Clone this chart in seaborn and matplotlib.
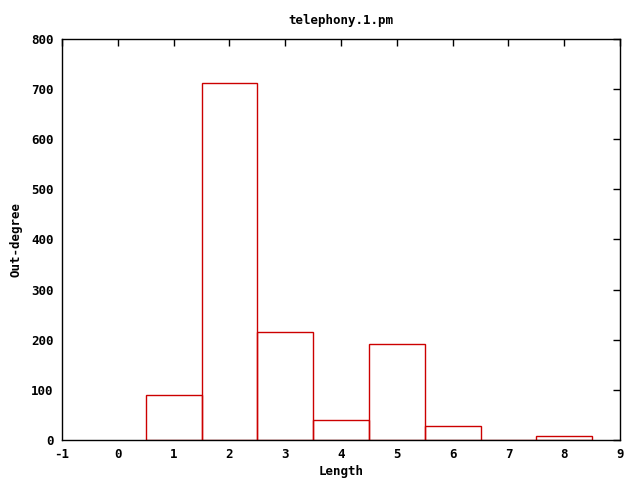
import matplotlib
matplotlib.use("Agg")
import matplotlib.pyplot as plt
import seaborn as sns
import pandas as pd

lengths = [1, 2, 3, 4, 5, 6, 7, 8]
outdegree = [90, 713, 215, 40, 191, 28, 0, 7]
x_ticks = [-1, 0, 1, 2, 3, 4, 5, 6, 7, 8, 9]
y_ticks = [0, 100, 200, 300, 400, 500, 600, 700, 800]

sns.set_style("white")
plt.rcParams['font.family'] = ['DejaVu Sans Mono']
plt.rcParams['font.weight'] = 'bold'
plt.rcParams['axes.unicode_minus'] = False
plt.rcParams['text.color'] = 'black'
plt.rcParams['axes.labelcolor'] = 'black'

df = pd.DataFrame({"Length": lengths, "Out-degree": outdegree})

fig = plt.figure(figsize=(6.4, 4.8), dpi=100)
ax = fig.add_axes([62/640, 40/480, 558/640, 401/480])
sns.barplot(data=df, x="Length", y="Out-degree", native_scale=True, width=1.0,
            fill=False, edgecolor="#cc0000", linewidth=1.0, ax=ax, errorbar=None)
for p in ax.patches:
    p.set_zorder(1)
    p.set_edgecolor("#cc0000")
    p.set_facecolor("none")

ax.set_xlim(-1, 9)
ax.set_ylim(0, 800)
ax.set_xticks(x_ticks)
ax.set_yticks(y_ticks)
ax.tick_params(direction="in", length=5, width=1, top=True, right=True,
               labelsize=9, colors="black", pad=6)
for lab in ax.get_xticklabels() + ax.get_yticklabels():
    lab.set_fontweight("bold")
for s in ax.spines.values():
    s.set_visible(True)
    s.set_color("black")
    s.set_linewidth(1)
    s.set_zorder(3)
ax.set_xlabel("Length", fontsize=9, fontweight="bold", labelpad=3, color="black")
ax.set_ylabel("Out-degree", fontsize=9, fontweight="bold", labelpad=6, color="black")
ax.set_title("telephony.1.pm", fontsize=9, fontweight="bold", pad=11, color="black")

fig.savefig("out.png", dpi=100)
